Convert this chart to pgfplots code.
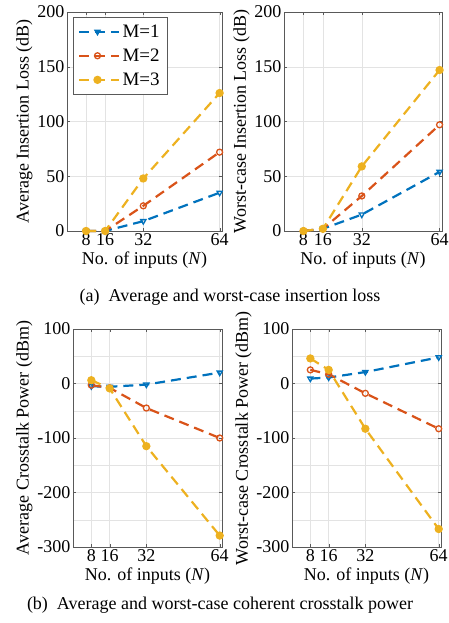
\documentclass[border=0pt]{standalone}
\usepackage{pgfplots}
\pgfplotsset{compat=1.18}
\usepackage{fontspec}
\setmainfont{Liberation Serif}

\definecolor{mblue}{rgb}{0,0.447,0.741}
\definecolor{morange}{rgb}{0.85,0.325,0.098}
\definecolor{myellow}{rgb}{0.929,0.694,0.125}

\newcommand{\bigf}{\fontsize{18}{21}\selectfont}

\pgfplotsset{
  matfig/.style={
    scale only axis,
    anchor=south west,
    xmin=0, xmax=65,
    xtick={8,16,32,64},
    xmajorgrids, ymajorgrids,
    grid style={gray!22, line width=0.5pt},
    axis line style={gray!70!black, line width=0.6pt},
    tick align=inside,
    major tick length=3pt,
    tick style={gray!70!black},
    clip=false,
    /pgf/number format/assume math mode=true,
    tick label style={font=\bigf},
    label style={font=\bigf},
    xlabel={No. of inputs (\textit{N})},
    xlabel style={yshift=1pt},
    ylabel style={yshift=-2pt},
    xticklabel style={yshift=1pt, inner xsep=1pt},
    yticklabel style={xshift=1pt},
  },
  s1/.style={mblue, line width=2.2pt, dash pattern=on 10pt off 6pt, mark=triangle, mark size=3pt, mark options={solid, rotate=180, line width=1.3pt}},
  s2/.style={morange, line width=2.2pt, dash pattern=on 10pt off 6pt, mark=o, mark size=3pt, mark options={solid, line width=1.3pt}},
  s3/.style={myellow, line width=2.2pt, dash pattern=on 10pt off 6pt, mark=*, mark size=3pt, mark options={solid}},
}

\begin{document}
\begin{tikzpicture}
\path[use as bounding box] (0,0) rectangle (448pt,-623pt);

% (a) average insertion loss
\begin{axis}[matfig,
  at={(67pt,-231pt)}, width=155pt, height=219pt,
  ymin=0, ymax=200, ytick={0,50,100,150,200},
  ylabel={Average Insertion Loss (dB)},
  legend style={at={(0.04,0.975)}, anchor=north west, font=\fontsize{19}{22}\selectfont,
    draw=gray!70!black, inner xsep=5pt, inner ysep=5pt, row sep=6pt},
  legend cell align=left,
  legend image code/.code={
    \draw[mark repeat=2, mark phase=2, #1] plot coordinates {(0pt,0pt) (18pt,0pt) (40pt,0pt)};
  },
]
\addplot[s1] coordinates {(8,0) (16,0) (32,9) (64,35)};
\addplot[s2] coordinates {(8,0) (16,0) (32,23) (64,72)};
\addplot[s3] coordinates {(8,0) (16,0) (32,48) (64,126)};
\legend{M=1, M=2, M=3}
\end{axis}

% (a) worst-case insertion loss
\begin{axis}[matfig,
  at={(284pt,-231pt)}, width=158pt, height=219pt,
  ymin=0, ymax=200, ytick={0,50,100,150,200},
  ylabel={Worst-case Insertion Loss (dB)},
]
\addplot[s1] coordinates {(8,0) (16,2) (32,15) (64,54)};
\addplot[s2] coordinates {(8,0) (16,2) (32,32) (64,97)};
\addplot[s3] coordinates {(8,0) (16,2) (32,59) (64,147)};
\end{axis}

\node[font=\fontsize{18}{21}\selectfont] at (230pt,-297pt) {(a)\enspace Average and worst-case insertion loss};

% (b) average crosstalk
\begin{axis}[matfig,
  at={(73pt,-547pt)}, width=149pt, height=218pt,
  ymin=-300, ymax=100, ytick={-300,-200,-100,0,100},
  minor ytick={-250,-150,-50,50}, yminorgrids,
  minor grid style={gray!22, line width=0.5pt},
  minor tick length=0pt,
  ylabel={Average Crosstalk Power (dBm)},
]
\addplot[s1] coordinates {(8,-5) (16,-6) (32,-2) (64,20)};
\addplot[s2] coordinates {(8,-3) (16,-8) (32,-45) (64,-100)};
\addplot[s3] coordinates {(8,6) (16,-9) (32,-115) (64,-279)};
\end{axis}

% (b) worst-case crosstalk
\begin{axis}[matfig,
  at={(292pt,-547pt)}, width=149pt, height=218pt,
  ymin=-300, ymax=100, ytick={-300,-200,-100,0,100},
  minor ytick={-250,-150,-50,50}, yminorgrids,
  minor grid style={gray!22, line width=0.5pt},
  minor tick length=0pt,
  ylabel={Worst-case Crosstalk Power (dBm)},
]
\addplot[s1] coordinates {(8,9) (16,11) (32,21) (64,48)};
\addplot[s2] coordinates {(8,25) (16,17) (32,-18) (64,-83)};
\addplot[s3] coordinates {(8,46) (16,25) (32,-83) (64,-267)};
\end{axis}

\node[font=\fontsize{18}{21}\selectfont] at (220pt,-605pt) {(b)\enspace Average and worst-case coherent crosstalk power};
\end{tikzpicture}
\end{document}
